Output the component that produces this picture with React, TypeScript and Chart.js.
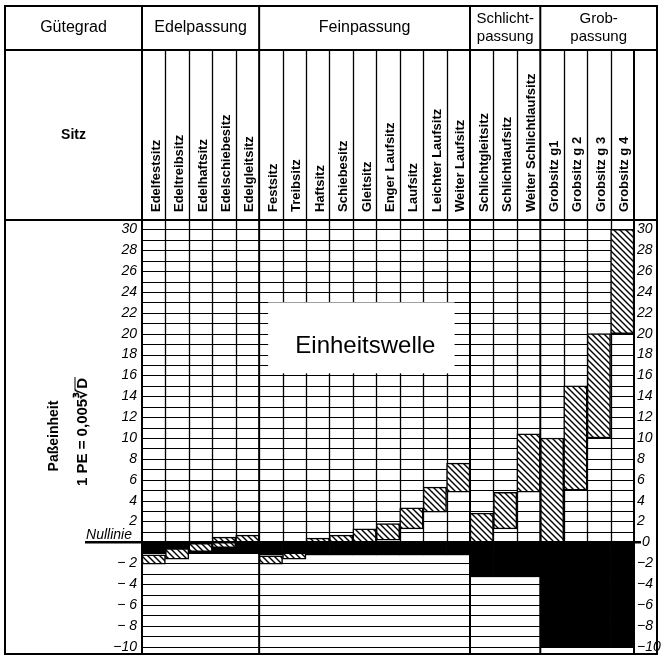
import React, { useEffect, useRef } from "react";
import { Chart, registerables } from "chart.js";

Chart.register(...registerables);

// ---- data ----
const fits = [
  "Edelfestsitz", "Edeltreibsitz", "Edelhaftsitz", "Edelschiebesitz", "Edelgleitsitz",
  "Festsitz", "Treibsitz", "Haftsitz", "Schiebesitz", "Gleitsitz", "Enger Laufsitz",
  "Laufsitz", "Leichter Laufsitz", "Weiter Laufsitz",
  "Schlichtgleitsitz", "Schlichtlaufsitz", "Weiter Schlichtlaufsitz",
  "Grobsitz g1", "Grobsitz g 2", "Grobsitz g 3", "Grobsitz g 4",
];
const groupNames = ["Edelpassung", "Feinpassung", "Schlicht-|passung", "Grob-|passung"];
const groupSizes = [5, 9, 3, 4];
// bore tolerance zones (hatched), in Paßeinheiten
const boreLow = [-2.1, -1.6, -0.9, -0.5, 0, -2.1, -1.6, 0, 0, 0, 0.2, 1.3, 2.9, 4.8, 0, 1.3, 4.8, 0, 5, 10, 20];
const boreHigh = [-1.2, -0.6, -0.1, 0.5, 0.7, -1.3, -1.0, 0.4, 0.7, 1.3, 1.8, 3.3, 5.3, 7.6, 2.8, 4.8, 10.4, 10, 15, 20, 30];
// unit shaft tolerance (black), lower limit
const shaftLow = [-1, -1, -1, -1, -1, -1.2, -1.2, -1.2, -1.2, -1.2, -1.2, -1.2, -1.2, -1.2, -3.3, -3.3, -3.3, -10, -10, -10, -10];
const leftTicks = [30, 28, 26, 24, 22, 20, 18, 16, 14, 12, 10, 8, 6, 4, 2, -2, -4, -6, -8, -10];
const leftTickText = ["30", "28", "26", "24", "22", "20", "18", "16", "14", "12", "10", "8", "6", "4", "2", "− 2", "− 4", "− 6", "− 8", "−10"];
const rightTicks = [30, 28, 26, 24, 22, 20, 18, 16, 14, 12, 10, 8, 6, 4, 2, 0, -2, -4, -6, -8, -10];
const rightTickText = ["30", "28", "26", "24", "22", "20", "18", "16", "14", "12", "10", "8", "6", "4", "2", "0", "−2", "−4", "−6", "−8", "−10"];

const TOP = 6;
const HEAD = 50;
const SITZ = 220;
const BOTTOM = 654;
const LEFT = 5;
const RIGHT = 657;
const SANS = '"Liberation Sans", Arial, sans-serif';
const NUM = 'italic 14px "Liberation Sans", Arial, sans-serif';

function line(ctx: CanvasRenderingContext2D, x1: number, y1: number, x2: number, y2: number) {
  ctx.beginPath();
  ctx.moveTo(x1, y1);
  ctx.lineTo(x2, y2);
  ctx.stroke();
}

function groupBounds(): number[] {
  const b = [0];
  groupSizes.forEach((s) => b.push(b[b.length - 1] + s));
  return b;
}

const tablePlugin = {
  id: "tablePlugin",
  beforeDraw(chart: any) {
    const ctx = chart.ctx;
    ctx.save();
    ctx.fillStyle = "#fff";
    ctx.fillRect(0, 0, chart.width, chart.height);
    ctx.restore();
  },
  beforeDatasetsDraw(chart: any) {
    const { ctx, chartArea: a, scales } = chart;
    const ys = scales.y;
    const n = fits.length;
    const w = (a.right - a.left) / n;
    const bx = (i: number) => a.left + i * w;
    const y0 = ys.getPixelForValue(0);
    const gb = groupBounds();
    ctx.save();
    ctx.strokeStyle = "#000";
    ctx.lineWidth = 1;
    for (let v = -10; v <= 30; v++) {
      if (v === 0) continue;
      const py = Math.round(ys.getPixelForValue(v)) + 0.5;
      line(ctx, a.left, py, a.right, py);
    }
    ctx.lineWidth = 1.3;
    for (let i = 1; i < n; i++) {
      if (gb.includes(i)) continue;
      const px = Math.round(bx(i)) + 0.5;
      line(ctx, px, HEAD, px, y0);
    }
    // blank label field
    const bxL = bx(5) + 9;
    const bxR = bx(13) + 8;
    const byT = ys.getPixelForValue(23);
    const byB = ys.getPixelForValue(16.2);
    ctx.fillStyle = "#fff";
    ctx.fillRect(bxL, byT, bxR - bxL, byB - byT);
    ctx.fillStyle = "#000";
    ctx.font = `24px ${SANS}`;
    ctx.textAlign = "center";
    ctx.textBaseline = "middle";
    ctx.fillText("Einheitswelle", (bxL + bxR) / 2 + 4, (byT + byB) / 2 + 9);
    ctx.restore();
  },
  afterDraw(chart: any) {
    const { ctx, chartArea: a, scales } = chart;
    const ys = scales.y;
    const n = fits.length;
    const w = (a.right - a.left) / n;
    const bx = (i: number) => a.left + i * w;
    const y0 = ys.getPixelForValue(0);
    const gb = groupBounds();
    ctx.save();
    ctx.strokeStyle = "#000";
    ctx.fillStyle = "#000";
    // outer frame and main rules
    ctx.lineWidth = 2;
    ctx.strokeRect(LEFT, TOP, RIGHT - LEFT, BOTTOM - TOP);
    line(ctx, LEFT, HEAD, RIGHT, HEAD);
    line(ctx, LEFT, SITZ, RIGHT, SITZ);
    line(ctx, a.left, TOP, a.left, BOTTOM);
    gb.forEach((i) => {
      if (i === 0) return;
      const px = bx(i);
      line(ctx, px, i === n ? HEAD : TOP, px, BOTTOM);
    });
    // zero line
    ctx.lineWidth = 2.5;
    line(ctx, 85, y0, 641, y0);

    // header texts
    ctx.textAlign = "center";
    ctx.textBaseline = "middle";
    ctx.font = `16px ${SANS}`;
    ctx.fillText("Gütegrad", (LEFT + a.left) / 2, 28);
    groupNames.forEach((g, k) => {
      const xl = bx(gb[k]);
      const xr = k === groupNames.length - 1 ? RIGHT : bx(gb[k + 1]);
      const parts = g.split("|");
      if (parts.length === 1) {
        ctx.font = `16px ${SANS}`;
        ctx.fillText(parts[0], (xl + xr) / 2, 28);
      } else {
        ctx.font = `15px ${SANS}`;
        ctx.fillText(parts[0], (xl + xr) / 2, 19);
        ctx.fillText(parts[1], (xl + xr) / 2, 37);
      }
    });
    ctx.font = `bold 14px ${SANS}`;
    ctx.fillText("Sitz", (LEFT + a.left) / 2, 135);

    // fit labels (rotated)
    ctx.font = `bold 13px ${SANS}`;
    ctx.textAlign = "left";
    ctx.textBaseline = "alphabetic";
    fits.forEach((f, i) => {
      ctx.save();
      ctx.translate(bx(i) + w / 2 + 6, 212);
      ctx.rotate(-Math.PI / 2);
      ctx.fillText(f, 0, 0);
      ctx.restore();
    });

    // y labels
    ctx.font = NUM;
    ctx.textBaseline = "middle";
    ctx.textAlign = "right";
    leftTicks.forEach((v, k) => {
      ctx.fillText(leftTickText[k], a.left - 5, ys.getPixelForValue(v));
    });
    ctx.textAlign = "left";
    rightTicks.forEach((v, k) => {
      ctx.fillText(rightTickText[k], v === 0 ? 642 : a.right + 3, ys.getPixelForValue(v));
    });
    ctx.textAlign = "right";
    ctx.textBaseline = "alphabetic";
    ctx.fillText("Nullinie", 132, y0 - 3);

    // axis title (rotated)
    ctx.textAlign = "center";
    ctx.font = `bold 14px ${SANS}`;
    ctx.save();
    ctx.translate(58, 436);
    ctx.rotate(-Math.PI / 2);
    ctx.fillText("Paßeinheit", 0, 0);
    ctx.restore();
    ctx.font = `bold 15px ${SANS}`;
    ctx.save();
    ctx.translate(87, 432);
    ctx.rotate(-Math.PI / 2);
    const t1 = "1 PE = 0,005";
    const t2 = "∛D";
    const w1 = ctx.measureText(t1).width;
    const w2 = ctx.measureText(t2).width;
    const wD = ctx.measureText("D").width;
    const start = -(w1 + w2) / 2;
    ctx.textAlign = "left";
    ctx.fillText(t1, start, 0);
    ctx.fillText(t2, start + w1, 0);
    ctx.lineWidth = 1;
    line(ctx, start + w1 + w2 - wD - 1, -12, start + w1 + w2 + 1, -12);
    ctx.restore();
    ctx.restore();
  },
};

function makeHatch(ctx: CanvasRenderingContext2D) {
  const s = 6;
  const c = document.createElement("canvas");
  c.width = s;
  c.height = s;
  const g = c.getContext("2d")!;
  g.fillStyle = "#fff";
  g.fillRect(0, 0, s, s);
  g.strokeStyle = "#000";
  g.lineWidth = 1.4;
  g.beginPath();
  g.moveTo(-1, -1);
  g.lineTo(s + 1, s + 1);
  g.moveTo(-1, s - 1);
  g.lineTo(1, s + 1);
  g.moveTo(s - 1, -1);
  g.lineTo(s + 1, 1);
  g.stroke();
  return ctx.createPattern(c, "repeat");
}

export default function App() {
  const ref = useRef<HTMLCanvasElement>(null);
  useEffect(() => {
    const canvas = ref.current!;
    const ctx = canvas.getContext("2d")!;
    const hatch = makeHatch(ctx);
    const chart = new Chart(ctx, {
      type: "bar",
      data: {
        labels: fits,
        datasets: [
          {
            label: "Bohrung",
            data: fits.map((_, i) => [boreLow[i], boreHigh[i]]) as any,
            backgroundColor: hatch as any,
            borderColor: "#000",
            borderWidth: 1.5,
            borderSkipped: false,
            barPercentage: 1,
            categoryPercentage: 1,
            grouped: false,
            order: 0,
          } as any,
          {
            label: "Einheitswelle",
            data: fits.map((_, i) => [shaftLow[i], 0]) as any,
            backgroundColor: "#000",
            borderColor: "#000",
            borderWidth: 0,
            barPercentage: 1,
            categoryPercentage: 1,
            grouped: false,
            order: 1,
          } as any,
        ],
      },
      options: {
        responsive: false,
        animation: false,
        devicePixelRatio: 1,
        layout: { padding: { left: 142, right: 27, top: 221, bottom: 5 } },
        scales: {
          x: { display: false, offset: true },
          y: { display: false, min: -10.7, max: 30.8 },
        },
        plugins: { legend: { display: false }, tooltip: { enabled: false } },
      },
      plugins: [tablePlugin],
    });
    return () => chart.destroy();
  }, []);
  return (
    <div style={{ position: "fixed", left: 0, top: 0, width: 661, height: 659, background: "#fff" }}>
      <canvas ref={ref} width={661} height={659} style={{ display: "block" }} />
    </div>
  );
}
